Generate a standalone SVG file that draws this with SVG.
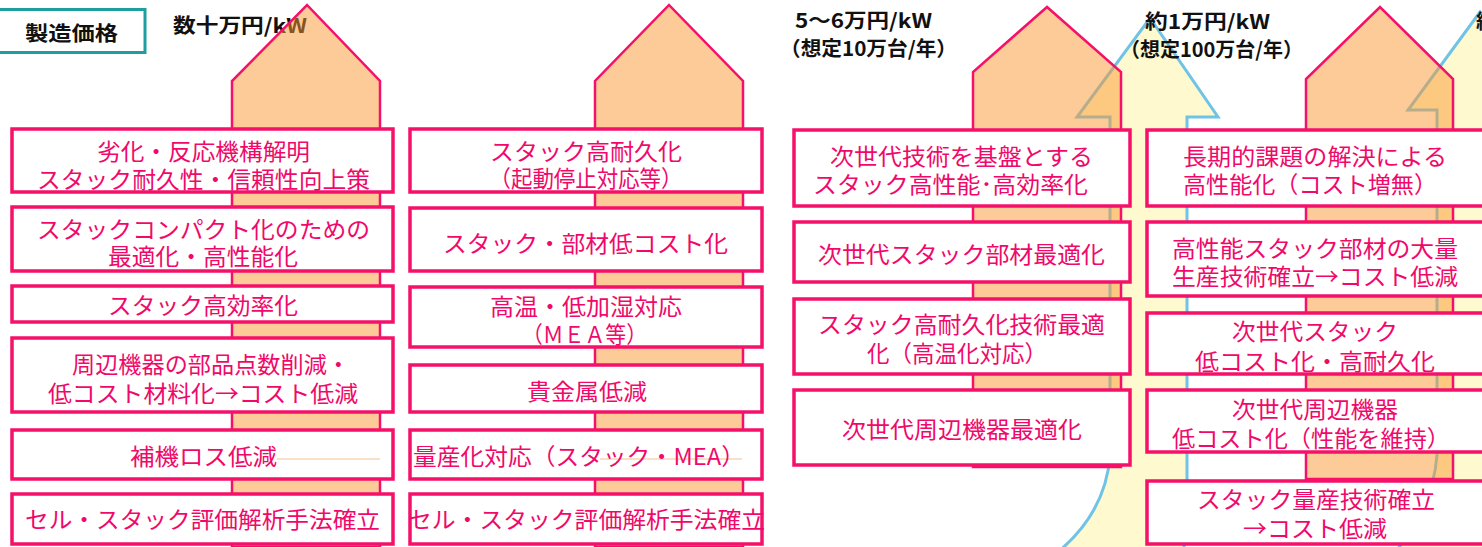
<svg xmlns="http://www.w3.org/2000/svg" width="1482" height="547" viewBox="0 0 1482 547">
<style>
.bx{fill:#ffffff;stroke:#f5106a;stroke-width:3.5}
.t{font-family:'Noto Sans CJK JP','Noto Sans',sans-serif;font-size:23px;fill:#f0086a;text-anchor:middle;dominant-baseline:central}
.lb{font-family:'Noto Sans CJK JP','Noto Sans',sans-serif;font-size:20px;font-weight:bold;fill:#111111;dominant-baseline:central}
.oa{fill:#fb9731;fill-opacity:0.5;stroke:#f5106a;stroke-width:2.5;stroke-linejoin:miter}
.ya{fill:#fff9cf;stroke:#6ec3e6;stroke-width:3;stroke-linejoin:miter}
.art{stroke:#f5c090;stroke-width:1}
</style>
<rect x="0" y="0" width="1482" height="547" fill="#ffffff"/>

<g id="background-arrows">
  <path class="ya" d="M1058,552 Q1106,512 1110,455 L1110,117 L1077,117 L1150,18 L1218,117 L1187,117 L1187,515 Q1186,538 1183,552 Z"/>
  <path class="ya" d="M1395,552 Q1433,508 1437,455 L1437,110 L1408,110 L1480,12 L1560,110 L1520,110 L1520,552 Z"/>
</g>

<g id="price-labels">
  <rect x="-2" y="9.5" width="147" height="43" fill="#ffffff" stroke="#1e9e9e" stroke-width="3"/>
  <text class="lb" x="25" y="32" font-size="22" textLength="93" lengthAdjust="spacingAndGlyphs">製造価格</text>
  <text class="lb" x="173" y="24" textLength="134" lengthAdjust="spacingAndGlyphs">数十万円/kW</text>
  <text class="lb" x="795" y="19" textLength="137" lengthAdjust="spacingAndGlyphs">5〜6万円/kW</text>
  <text class="lb" x="780" y="47" textLength="177" lengthAdjust="spacingAndGlyphs">（想定10万台/年）</text>
  <text class="lb" x="1145" y="20" textLength="125" lengthAdjust="spacingAndGlyphs">約1万円/kW</text>
  <text class="lb" x="1120" y="48" textLength="183" lengthAdjust="spacingAndGlyphs">（想定100万台/年）</text>
  <text class="lb" x="1476" y="20">約</text>
</g>

<g id="connectors">
  <polygon class="oa" points="232,547 232,81 307,5 380,81 380,547"/>
  <polygon class="oa" points="595,547 595,81 669,5 743,81 743,547"/>
  <polygon class="oa" points="973,467 973,72 1047,7 1121,72 1121,467"/>
  <polygon class="oa" points="1306,479 1306,79 1380,7 1453,79 1453,479"/>
</g>

<g id="col1">
  <g id="c1b1"><rect class="bx" x="12" y="129" width="381" height="63"/>
    <text class="t" x="203.5" y="150" textLength="213" lengthAdjust="spacingAndGlyphs">劣化・反応機構解明</text>
    <text class="t" x="203.5" y="178" textLength="333" lengthAdjust="spacingAndGlyphs">スタック耐久性・信頼性向上策</text></g>
  <g id="c1b2"><rect class="bx" x="12" y="207" width="381" height="64"/>
    <text class="t" x="203.5" y="228" textLength="333" lengthAdjust="spacingAndGlyphs">スタックコンパクト化のための</text>
    <text class="t" x="203" y="255" textLength="190" lengthAdjust="spacingAndGlyphs">最適化・高性能化</text></g>
  <g id="c1b3"><rect class="bx" x="12" y="286" width="381" height="36"/>
    <text class="t" x="203" y="304" textLength="190" lengthAdjust="spacingAndGlyphs">スタック高効率化</text></g>
  <g id="c1b4"><rect class="bx" x="12" y="338" width="381" height="74"/>
    <text class="t" x="211" y="363" textLength="278" lengthAdjust="spacingAndGlyphs">周辺機器の部品点数削減・</text>
    <text class="t" x="203" y="392" textLength="310" lengthAdjust="spacingAndGlyphs">低コスト材料化→コスト低減</text></g>
  <g id="c1b5"><rect class="bx" x="12" y="430" width="381" height="49"/>
    <line class="art" x1="277" y1="459" x2="380" y2="459"/>
    <text class="t" x="203.5" y="455" textLength="147" lengthAdjust="spacingAndGlyphs">補機ロス低減</text></g>
  <g id="c1b6"><rect class="bx" x="12" y="494" width="381" height="50"/>
    <text class="t" x="202.5" y="518" textLength="355" lengthAdjust="spacingAndGlyphs">セル・スタック評価解析手法確立</text></g>
</g>

<g id="col2">
  <g id="c2b1"><rect class="bx" x="410" y="129" width="352" height="63"/>
    <text class="t" x="586" y="150" textLength="192" lengthAdjust="spacingAndGlyphs">スタック高耐久化</text>
    <text class="t" x="586" y="177" textLength="193" lengthAdjust="spacingAndGlyphs">（起動停止対応等）</text></g>
  <g id="c2b2"><rect class="bx" x="410" y="208" width="352" height="63"/>
    <text class="t" x="585.5" y="242" textLength="285" lengthAdjust="spacingAndGlyphs">スタック・部材低コスト化</text></g>
  <g id="c2b3"><rect class="bx" x="410" y="287" width="352" height="60"/>
    <text class="t" x="586" y="305" textLength="192" lengthAdjust="spacingAndGlyphs">高温・低加湿対応</text>
    <text class="t" x="584.5" y="333" textLength="125" lengthAdjust="spacingAndGlyphs">（ＭＥＡ等）</text></g>
  <g id="c2b4"><rect class="bx" x="410" y="365" width="352" height="47"/>
    <text class="t" x="587" y="390" textLength="120" lengthAdjust="spacingAndGlyphs">貴金属低減</text></g>
  <g id="c2b5"><rect class="bx" x="410" y="430" width="352" height="49"/>
    <line class="art" x1="600" y1="459" x2="742" y2="459"/>
    <text class="t" x="579" y="455" textLength="332" lengthAdjust="spacingAndGlyphs">量産化対応（スタック・MEA）</text></g>
  <g id="c2b6"><rect class="bx" x="410" y="494" width="352" height="50"/>
    <text class="t" x="586.5" y="518" textLength="357" lengthAdjust="spacingAndGlyphs">セル・スタック評価解析手法確立</text></g>
</g>

<g id="col3">
  <g id="c3b1"><rect class="bx" x="794" y="130" width="336" height="76"/>
    <text class="t" x="961.5" y="155" font-size="24" textLength="263" lengthAdjust="spacingAndGlyphs">次世代技術を基盤とする</text>
    <text class="t" x="950.5" y="183" font-size="24" textLength="275" lengthAdjust="spacingAndGlyphs">スタック高性能･高効率化</text></g>
  <g id="c3b2"><rect class="bx" x="794" y="222" width="336" height="60"/>
    <text class="t" x="961.5" y="253" font-size="24" textLength="287" lengthAdjust="spacingAndGlyphs">次世代スタック部材最適化</text></g>
  <g id="c3b3"><rect class="bx" x="794" y="299" width="336" height="75"/>
    <text class="t" x="961.5" y="323" font-size="24" textLength="287" lengthAdjust="spacingAndGlyphs">スタック高耐久化技術最適</text>
    <text class="t" x="957" y="352" font-size="24" textLength="180" lengthAdjust="spacingAndGlyphs">化（高温化対応）</text></g>
  <g id="c3b4"><rect class="bx" x="794" y="390" width="336" height="75"/>
    <text class="t" x="962" y="428" font-size="24" textLength="240" lengthAdjust="spacingAndGlyphs">次世代周辺機器最適化</text></g>
</g>

<g id="col4">
  <g id="c4b1"><rect class="bx" x="1147" y="130" width="345" height="76"/>
    <text class="t" x="1315" y="155" font-size="24" textLength="264" lengthAdjust="spacingAndGlyphs">長期的課題の解決による</text>
    <text class="t" x="1310" y="183" font-size="24" textLength="254" lengthAdjust="spacingAndGlyphs">高性能化（コスト増無）</text></g>
  <g id="c4b2"><rect class="bx" x="1147" y="222" width="345" height="74"/>
    <text class="t" x="1315" y="247" font-size="24" textLength="286" lengthAdjust="spacingAndGlyphs">高性能スタック部材の大量</text>
    <text class="t" x="1315" y="275" font-size="24" textLength="286" lengthAdjust="spacingAndGlyphs">生産技術確立→コスト低減</text></g>
  <g id="c4b3"><rect class="bx" x="1147" y="313" width="345" height="61"/>
    <text class="t" x="1315" y="330" font-size="24" textLength="166" lengthAdjust="spacingAndGlyphs">次世代スタック</text>
    <text class="t" x="1315" y="360" font-size="24" textLength="240" lengthAdjust="spacingAndGlyphs">低コスト化・高耐久化</text></g>
  <g id="c4b4"><rect class="bx" x="1147" y="390" width="345" height="62"/>
    <text class="t" x="1315" y="408" font-size="24" textLength="166" lengthAdjust="spacingAndGlyphs">次世代周辺機器</text>
    <text class="t" x="1311" y="437" font-size="24" textLength="278" lengthAdjust="spacingAndGlyphs">低コスト化（性能を維持）</text></g>
  <g id="c4b5"><rect class="bx" x="1147" y="481" width="345" height="63"/>
    <text class="t" x="1316" y="498" font-size="24" textLength="238" lengthAdjust="spacingAndGlyphs">スタック量産技術確立</text>
    <text class="t" x="1315" y="527" font-size="24" textLength="144" lengthAdjust="spacingAndGlyphs">→コスト低減</text></g>
</g>
</svg>
